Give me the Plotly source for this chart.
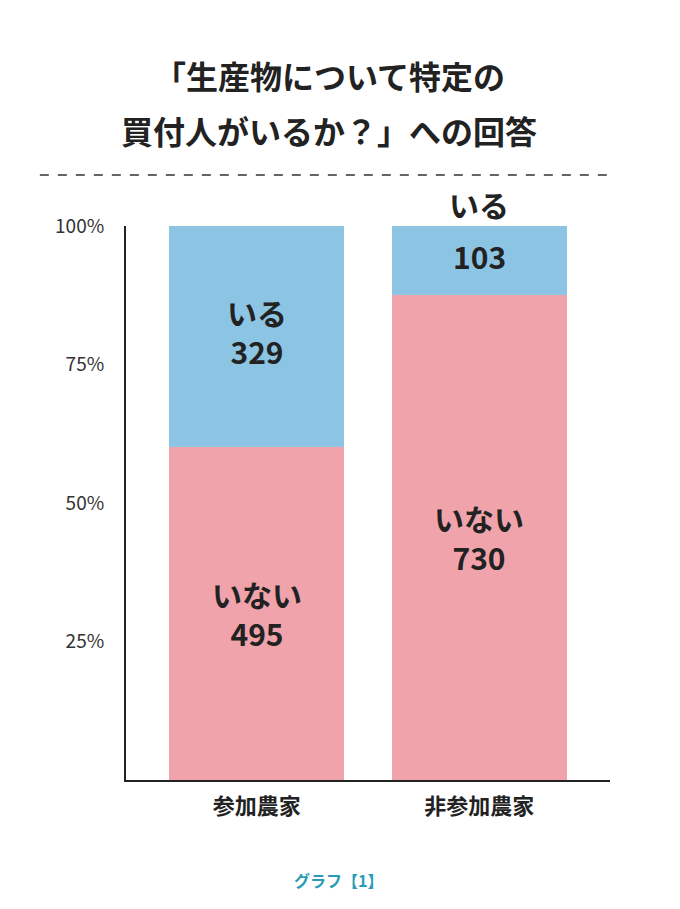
import plotly.graph_objects as go

categories = ["参加農家", "非参加農家"]
inai = [495, 730]
iru = [329, 103]
tick_vals = [25, 50, 75, 100]
tick_text = ["25%", "50%", "75%", "100%"]

tot = [a + b for a, b in zip(inai, iru)]
p_inai = [a / t * 100 for a, t in zip(inai, tot)]
p_iru = [b / t * 100 for b, t in zip(iru, tot)]

F = "Noto Sans CJK JP"
fig = go.Figure()
fig.add_bar(x=[0, 1], y=p_inai, marker_color="#f0a3aa", marker_line_width=0, width=0.785, hoverinfo="skip")
fig.add_bar(x=[0, 1], y=p_iru, marker_color="#8cc4e4", marker_line_width=0, width=0.785, hoverinfo="skip")

lab = dict(family=F, size=30, color="#222")
ann = [
    dict(x=0, y=p_inai[0] / 2, text=f"<b>いない<br>{inai[0]}</b>", showarrow=False, font=lab),
    dict(x=0, y=p_inai[0] + p_iru[0] / 2, text=f"<b>いる<br>{iru[0]}</b>", showarrow=False, font=lab, yshift=5),
    dict(x=1, y=p_inai[1] / 2, text=f"<b>いない<br>{inai[1]}</b>", showarrow=False, font=lab),
    dict(x=1, y=p_inai[1] + p_iru[1] / 2, text=f"<b>{iru[1]}</b>", showarrow=False, font=lab, yshift=4),
    dict(x=1, y=100, text="<b>いる</b>", showarrow=False, font=lab, yanchor="bottom", yshift=-2),
    dict(x=0.42, y=1, xref="paper", yref="paper", yanchor="middle", yshift=151,
         text="<b>「生産物について特定の</b>", showarrow=False, font=dict(family=F, size=32, color="#222")),
    dict(x=0.42, y=1, xref="paper", yref="paper", yanchor="middle", yshift=96,
         text="<b>買付人がいるか？」への回答</b>", showarrow=False, font=dict(family=F, size=32, color="#222")),
    dict(x=0.44, y=0, xref="paper", yref="paper", yanchor="middle", yshift=-100,
         text="<b>グラフ【1】</b>", showarrow=False, font=dict(family=F, size=16, color="#2a9bb5")),
]
fig.update_layout(
    width=680, height=909, barmode="stack", showlegend=False,
    plot_bgcolor="white", paper_bgcolor="white",
    margin=dict(l=118, r=78, t=218, b=137),
    xaxis=dict(range=[-0.587, 1.587], tickvals=[0, 1], ticktext=[f"<b>{c}</b>" for c in categories],
               showline=True, linecolor="#222", linewidth=2, showgrid=False, zeroline=False,
               ticks="", ticklabelstandoff=6, tickfont=dict(family=F, size=22, color="#222")),
    yaxis=dict(range=[0, 100], tickvals=tick_vals, ticktext=tick_text, showline=True, linecolor="#222",
               linewidth=2, showgrid=False, zeroline=False, ticks="", ticklabelstandoff=16,
               tickfont=dict(family=F, size=19, color="#333")),
    annotations=ann,
)
fig.add_shape(type="line", xref="paper", yref="paper", x0=-0.178, x1=1.0, y0=1.092, y1=1.092,
              line=dict(color="#333", width=1.5, dash="dash"))
fig.write_html("out.html")
